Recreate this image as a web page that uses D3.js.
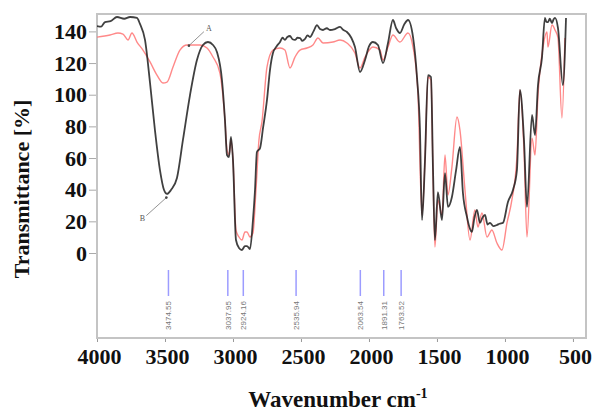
<!DOCTYPE html>
<html>
<head>
<meta charset="utf-8">
<script src="https://cdn.jsdelivr.net/npm/d3@7"></script>
<style>
  html, body { margin: 0; padding: 0; background: #fff; }
  svg { display: block; }
</style>
</head>
<body>
<svg id="chart" width="593" height="412"></svg>
<script>
// FTIR spectra: wavenumber (cm-1) and transmittance (%) for samples A and B
const wavenumberB = [4000,3970,3941,3900,3853,3800,3757,3706,3684,3647,3610,3574,3537,3507,3485,3456,3412,3368,3316,3265,3221,3184,3147,3118,3081,3059,3044,3029,3015,3000,2978,2956,2934,2912,2897,2875,2853,2838,2824,2801,2779,2750,2728,2706,2680,2654,2636,2618,2600,2581,2562,2544,2525,2507,2490,2471,2452,2434,2408,2382,2360,2338,2310,2287,2250,2213,2190,2162,2130,2103,2066,2029,2000,1971,1934,1897,1860,1824,1800,1772,1740,1713,1676,1647,1625,1610,1588,1566,1544,1529,1515,1493,1463,1441,1419,1390,1360,1331,1309,1279,1260,1243,1225,1206,1184,1165,1147,1128,1110,1085,1059,1040,1015,978,941,912,890,860,838,801,779,757,728,706,695,684,670,654,643,632,610,574,551];
const transB = [143.4,143.0,145.9,146.5,149.1,148.0,149.1,148.5,144.7,134.6,107.4,77.7,52.4,39.8,37.3,39.8,47.4,71.4,99.8,121.9,131.4,133.3,131.4,127.0,109.3,84.0,61.9,60.6,73.3,58.7,8.2,3.2,1.9,4.4,4.4,2.5,20.8,39.8,63.8,66.3,79.0,96.7,115.6,126.3,130.5,133.3,136.0,134.6,136.5,137.1,135.0,134.6,136.0,135.8,134.0,135.2,137.5,136.4,140.0,144.0,141.5,140.9,142.0,140.9,141.5,142.8,141.0,139.6,136.0,130.1,114.3,121.9,130.5,133.3,131.4,120.0,132.7,147.2,142.0,139.0,144.5,147.2,136.4,111.2,77.7,20.8,58.7,112.4,111.2,52.4,8.2,38.5,20.8,50.5,29.1,35.4,52.0,67.0,37.9,22.7,16.0,13.3,22.0,27.2,19.0,22.5,24.0,18.0,19.0,17.0,17.7,18.5,19.0,32.2,39.8,52.4,103.0,71.4,29.1,87.2,74.5,106.1,123.2,148.5,146.0,145.9,148.0,145.3,147.5,148.5,142.1,106.1,148.5];

const wavenumberA = [4000,3904,3846,3809,3772,3743,3706,3662,3610,3559,3515,3485,3441,3390,3338,3243,3191,3147,3096,3059,3044,3029,3015,3000,2978,2956,2934,2912,2897,2875,2853,2831,2809,2787,2750,2706,2654,2618,2581,2544,2507,2456,2412,2375,2338,2265,2213,2162,2103,2066,2029,1971,1919,1897,1860,1824,1772,1713,1676,1640,1610,1588,1566,1544,1529,1515,1493,1463,1441,1419,1390,1353,1331,1294,1257,1221,1199,1169,1132,1096,1059,1022,985,949,912,890,860,838,801,779,757,721,691,684,654,632,610,581,559];
const transA = [136.4,137.7,139.0,138.3,134.6,139.0,133.3,128.2,120.7,112.4,107.4,108.0,117.5,128.2,131.4,131.4,129.5,123.8,113.7,84.0,65.1,61.9,71.4,58.7,14.5,10.1,8.2,13.3,13.3,10.1,12.6,39.8,71.4,82.8,117.5,128.2,129.5,128.2,116.9,123.8,128.2,129.5,131.4,135.8,132.7,133.3,134.6,132.7,126.3,116.9,123.8,130.1,128.2,121.9,130.1,137.7,133.3,139.0,130.1,101.1,24.0,58.7,111.2,109.3,49.3,3.8,33.5,24.0,61.9,36.6,54.3,85.9,77.7,39.8,8.2,27.2,16.4,25.3,10.1,14.5,6.3,1.9,19.0,33.5,60.6,103.0,65.1,10.1,72.6,61.9,99.8,129.5,139.6,130.1,144.0,140.9,135.8,85.3,135.8];

// Peak table entries
const peakWavenumbers = [3474.55, 3037.95, 2924.16, 2535.94, 2063.54, 1891.31, 1763.52];

// Axis ticks
const xTicks = [4000, 3500, 3000, 2500, 2000, 1500, 1000, 500];
const yTicks = [0, 20, 40, 60, 80, 100, 120, 140];

// Annotation targets: [label, wavenumber, transmittance]
const notes = [["A", 3324, 131], ["B", 3490, 35]];

const svg = d3.select("#chart");
const frame = { left: 97, right: 586, top: 14, bottom: 338 };

const x = d3.scaleLinear().domain([4000, 404]).range([frame.left, frame.right]);
const y = d3.scaleLinear().domain([0, 140]).range([253, 31.4]);

svg.append("defs").append("clipPath").attr("id", "plotClip")
  .append("rect")
  .attr("x", frame.left).attr("y", frame.top)
  .attr("width", frame.right - frame.left).attr("height", frame.bottom - frame.top);

const serif = "'Liberation Serif', 'Times New Roman', serif";

// Y axis
const yAxis = svg.append("g")
  .attr("transform", `translate(${frame.left},0)`)
  .call(d3.axisLeft(y).tickValues(yTicks).tickSize(8).tickPadding(2).tickFormat(d3.format("d")));
yAxis.select(".domain").remove();
yAxis.selectAll(".tick line").attr("stroke", "#aaa");
yAxis.selectAll("text")
  .attr("font-family", serif)
  .attr("font-weight", "bold").attr("font-size", 22).attr("fill", "#111");

// X axis
const xAxis = svg.append("g")
  .attr("transform", `translate(0,${frame.bottom})`)
  .call(d3.axisBottom(x).tickValues(xTicks).tickSize(4).tickFormat(d3.format("d")));
xAxis.select(".domain").remove();
xAxis.selectAll(".tick line").attr("stroke", "#999");
xAxis.selectAll("text")
  .attr("dy", null).attr("y", 26).attr("dx", 2)
  .attr("font-family", serif)
  .attr("font-weight", "bold").attr("font-size", 22).attr("fill", "#111");

// Frame
svg.append("rect")
  .attr("x", frame.left).attr("y", frame.top)
  .attr("width", frame.right - frame.left).attr("height", frame.bottom - frame.top)
  .attr("fill", "none").attr("stroke", "#c4c4c4").attr("stroke-width", 2);

// Axis titles
svg.append("text")
  .attr("transform", "translate(29,189) rotate(-90)")
  .attr("text-anchor", "middle")
  .attr("font-family", serif)
  .attr("font-weight", "bold").attr("font-size", 22).attr("fill", "#111")
  .text("Transmittance [%]");

const xt = svg.append("text")
  .attr("x", 338).attr("y", 407)
  .attr("text-anchor", "middle")
  .attr("font-family", serif)
  .attr("font-weight", "bold").attr("font-size", 23).attr("fill", "#111");
xt.append("tspan").text("Wavenumber cm");
xt.append("tspan").attr("dy", -9).attr("font-size", 14).text("-1");

// Spectra
const line = d3.line().x(d => x(d[0])).y(d => y(d[1])).curve(d3.curveMonotoneX);
const plot = svg.append("g").attr("clip-path", "url(#plotClip)");

plot.append("path")
  .datum(d3.zip(wavenumberA, transA))
  .attr("d", line)
  .attr("fill", "none").attr("stroke", "#ff7474").attr("stroke-opacity", 0.85)
  .attr("stroke-width", 1.4).attr("stroke-linejoin", "round");

plot.append("path")
  .datum(d3.zip(wavenumberB, transB))
  .attr("d", line)
  .attr("fill", "none").attr("stroke", "#1e1e1e").attr("stroke-opacity", 0.85)
  .attr("stroke-width", 1.8).attr("stroke-linejoin", "round");

// Peak markers and their labels
const peaks = plot.append("g").selectAll("g").data(peakWavenumbers).join("g")
  .attr("transform", d => `translate(${x(d)},0)`);
peaks.append("line")
  .attr("y1", 270).attr("y2", 296)
  .attr("stroke", "#9c9cff").attr("stroke-width", 1.5);
peaks.append("text")
  .attr("transform", "translate(0,301) rotate(-90)")
  .attr("text-anchor", "end").attr("dy", "0.35em")
  .attr("font-family", "'Liberation Sans', Arial, sans-serif")
  .attr("font-size", 8).attr("fill", "#777")
  .text(d => d.toFixed(2));

// Sample annotations
const noteG = svg.append("g");
notes.forEach(([label, w, t]) => {
  const px = x(w), py = y(t);
  const isA = label === "A";
  const lx = isA ? px + 15 : px - 20;
  const ly = isA ? py - 14 : py + 18;
  noteG.append("line")
    .attr("x1", px).attr("y1", py).attr("x2", lx).attr("y2", ly)
    .attr("stroke", "#777").attr("stroke-width", 0.8);
  noteG.append("circle").attr("cx", px).attr("cy", py).attr("r", 1.3).attr("fill", "#444");
  noteG.append("text")
    .attr("x", isA ? lx + 5 : lx - 4).attr("y", isA ? ly - 1 : ly + 5)
    .attr("text-anchor", "middle")
    .attr("font-family", serif).attr("font-size", 8).attr("fill", "#555")
    .text(label);
});
</script>
</body>
</html>
